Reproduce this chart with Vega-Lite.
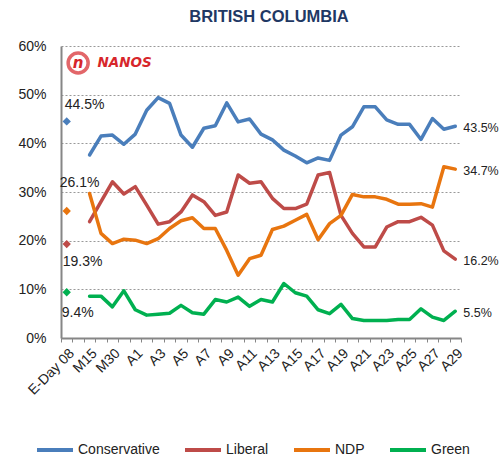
{
  "$schema": "https://vega.github.io/schema/vega-lite/v6.json",
  "width": 400,
  "height": 292,
  "autosize": {"type": "none"},
  "padding": {"left": 61, "top": 46, "right": 39, "bottom": 119},
  "background": "white",
  "config": {"view": {"stroke": null}, "font": "Liberation Sans"},
  "title": {"text": "BRITISH COLUMBIA", "fontSize": 16.5, "fontWeight": "bold", "color": "#1F3864", "font": "Liberation Sans", "offset": 14, "dx": 8, "anchor": "middle"},
  "data": {"values": [
    {"date": "E-Day 08", "Conservative": 0.445, "Liberal": 0.193, "NDP": 0.261, "Green": 0.094},
    {"date": "M15", "Conservative": 0.376, "Liberal": 0.239, "NDP": 0.297, "Green": 0.086},
    {"date": "M29", "Conservative": 0.415, "Liberal": 0.280, "NDP": 0.215, "Green": 0.086},
    {"date": "M30", "Conservative": 0.417, "Liberal": 0.321, "NDP": 0.194, "Green": 0.064},
    {"date": "M31", "Conservative": 0.398, "Liberal": 0.296, "NDP": 0.203, "Green": 0.097},
    {"date": "A1", "Conservative": 0.419, "Liberal": 0.311, "NDP": 0.201, "Green": 0.058},
    {"date": "A2", "Conservative": 0.468, "Liberal": 0.273, "NDP": 0.194, "Green": 0.047},
    {"date": "A3", "Conservative": 0.494, "Liberal": 0.234, "NDP": 0.204, "Green": 0.049},
    {"date": "A4", "Conservative": 0.482, "Liberal": 0.239, "NDP": 0.225, "Green": 0.051},
    {"date": "A5", "Conservative": 0.417, "Liberal": 0.259, "NDP": 0.241, "Green": 0.067},
    {"date": "A6", "Conservative": 0.392, "Liberal": 0.294, "NDP": 0.247, "Green": 0.052},
    {"date": "A7", "Conservative": 0.431, "Liberal": 0.280, "NDP": 0.225, "Green": 0.049},
    {"date": "A8", "Conservative": 0.436, "Liberal": 0.252, "NDP": 0.225, "Green": 0.079},
    {"date": "A9", "Conservative": 0.483, "Liberal": 0.259, "NDP": 0.180, "Green": 0.074},
    {"date": "A10", "Conservative": 0.444, "Liberal": 0.335, "NDP": 0.129, "Green": 0.084},
    {"date": "A11", "Conservative": 0.450, "Liberal": 0.318, "NDP": 0.163, "Green": 0.065},
    {"date": "A12", "Conservative": 0.419, "Liberal": 0.321, "NDP": 0.170, "Green": 0.079},
    {"date": "A13", "Conservative": 0.407, "Liberal": 0.287, "NDP": 0.223, "Green": 0.074},
    {"date": "A14", "Conservative": 0.386, "Liberal": 0.266, "NDP": 0.230, "Green": 0.112},
    {"date": "A15", "Conservative": 0.374, "Liberal": 0.266, "NDP": 0.242, "Green": 0.093},
    {"date": "A16", "Conservative": 0.360, "Liberal": 0.275, "NDP": 0.254, "Green": 0.086},
    {"date": "A17", "Conservative": 0.370, "Liberal": 0.335, "NDP": 0.202, "Green": 0.058},
    {"date": "A18", "Conservative": 0.365, "Liberal": 0.340, "NDP": 0.235, "Green": 0.050},
    {"date": "A19", "Conservative": 0.417, "Liberal": 0.252, "NDP": 0.252, "Green": 0.069},
    {"date": "A20", "Conservative": 0.434, "Liberal": 0.215, "NDP": 0.295, "Green": 0.040},
    {"date": "A21", "Conservative": 0.475, "Liberal": 0.187, "NDP": 0.290, "Green": 0.036},
    {"date": "A22", "Conservative": 0.475, "Liberal": 0.187, "NDP": 0.290, "Green": 0.036},
    {"date": "A23", "Conservative": 0.448, "Liberal": 0.228, "NDP": 0.285, "Green": 0.036},
    {"date": "A24", "Conservative": 0.439, "Liberal": 0.239, "NDP": 0.275, "Green": 0.038},
    {"date": "A25", "Conservative": 0.439, "Liberal": 0.239, "NDP": 0.275, "Green": 0.038},
    {"date": "A26", "Conservative": 0.408, "Liberal": 0.248, "NDP": 0.276, "Green": 0.060},
    {"date": "A27", "Conservative": 0.451, "Liberal": 0.232, "NDP": 0.269, "Green": 0.043},
    {"date": "A28", "Conservative": 0.429, "Liberal": 0.179, "NDP": 0.352, "Green": 0.036},
    {"date": "A29", "Conservative": 0.435, "Liberal": 0.162, "NDP": 0.347, "Green": 0.055}
  ]},
  "encoding": {
    "x": {
      "field": "date", "type": "ordinal",
      "scale": {"type": "band", "paddingInner": 0, "paddingOuter": 0,
        "domain": ["E-Day 08", "M14", "M15", "M29", "M30", "M31", "A1", "A2", "A3", "A4", "A5", "A6", "A7", "A8", "A9", "A10", "A11", "A12", "A13", "A14", "A15", "A16", "A17", "A18", "A19", "A20", "A21", "A22", "A23", "A24", "A25", "A26", "A27", "A28", "A29"]},
      "axis": {
        "title": null, "labelAngle": -45, "labelFontSize": 14, "labelColor": "#222222",
        "domainColor": "#868686", "domainWidth": 2, "tickColor": "#868686", "tickSize": 4,
        "tickBand": "extent", "labelPadding": 4, "labelOverlap": false, "grid": false,
        "labelExpr": "indexof(['E-Day 08','M15','M30','A1','A3','A5','A7','A9','A11','A13','A15','A17','A19','A21','A23','A25','A27','A29'], datum.value) >= 0 ? datum.value : ''"
      }
    },
    "y": {
      "field": "value", "type": "quantitative",
      "scale": {"domain": [0, 0.6]},
      "axis": {
        "title": null, "values": [0, 0.1, 0.2, 0.3, 0.4, 0.5, 0.6], "format": ".0%",
        "labelFontSize": 14, "labelColor": "#222222", "domainColor": "#868686", "domainWidth": 2,
        "ticks": false, "tickSize": 0, "labelPadding": 15,
        "grid": true, "gridDash": [2, 2], "gridColor": "#999999", "gridWidth": 1
      }
    }
  },
  "layer": [
    {
      "data": {"values": [{"date": "M14", "value": 0.565, "name": "n"}]},
      "mark": {"type": "point", "shape": "circle", "filled": false, "strokeWidth": 3.5, "size": 400, "color": "#D7262B"}
    },
    {
      "data": {"values": [{"date": "M14", "value": 0.565, "name": "n"}]},
      "mark": {"type": "text", "font": "DejaVu Sans", "fontWeight": "bold", "fontStyle": "italic", "fontSize": 15, "color": "#D7262B", "baseline": "middle", "align": "center"},
      "encoding": {"text": {"field": "name"}}
    },
    {
      "data": {"values": [{"date": "M15", "value": 0.565, "name": "NANOS"}]},
      "mark": {"type": "text", "font": "DejaVu Sans", "fontWeight": "bold", "fontStyle": "italic", "fontSize": 13.5, "color": "#D7262B", "baseline": "middle", "align": "left", "dx": 8},
      "encoding": {"text": {"field": "name"}}
    },
    {
      "transform": [{"fold": ["Conservative", "Liberal", "NDP", "Green"], "as": ["party", "value"]}, {"filter": "datum.date != 'E-Day 08'"}],
      "mark": {"type": "line", "strokeWidth": 3.5, "strokeJoin": "round", "strokeCap": "round"},
      "encoding": {
        "color": {
          "field": "party", "type": "nominal",
          "scale": {"domain": ["Conservative", "Liberal", "NDP", "Green"], "range": ["#4A7EBB", "#BE4B48", "#E8750F", "#00B050"]},
          "legend": {"orient": "none", "legendX": -26, "legendY": 384, "direction": "horizontal", "title": null,
            "symbolType": "stroke", "symbolSize": 1296, "symbolStrokeWidth": 4, "labelFontSize": 14,
            "labelColor": "#222222", "columnPadding": 17, "labelOffset": 3}
        }
      }
    },
    {
      "transform": [{"fold": ["Conservative", "Liberal", "NDP", "Green"], "as": ["party", "value"]}, {"filter": "datum.date == 'E-Day 08'"}],
      "mark": {"type": "point", "shape": "diamond", "filled": true, "size": 70, "opacity": 1},
      "encoding": {"color": {"field": "party", "type": "nominal"}}
    },
    {
      "transform": [{"fold": ["Conservative"], "as": ["party", "value"]}, {"filter": "datum.date == 'E-Day 08'"}],
      "mark": {"type": "text", "align": "left", "baseline": "middle", "dx": -2, "dy": -16, "fontSize": 14, "color": "#222222"},
      "encoding": {"text": {"field": "value", "type": "quantitative", "format": ".1%"}}
    },
    {
      "transform": [{"fold": ["NDP"], "as": ["party", "value"]}, {"filter": "datum.date == 'E-Day 08'"}],
      "mark": {"type": "text", "align": "left", "baseline": "middle", "dx": -7, "dy": -28, "fontSize": 14, "color": "#222222"},
      "encoding": {"text": {"field": "value", "type": "quantitative", "format": ".1%"}}
    },
    {
      "transform": [{"fold": ["Liberal"], "as": ["party", "value"]}, {"filter": "datum.date == 'E-Day 08'"}],
      "mark": {"type": "text", "align": "left", "baseline": "middle", "dx": -4, "dy": 18, "fontSize": 14, "color": "#222222"},
      "encoding": {"text": {"field": "value", "type": "quantitative", "format": ".1%"}}
    },
    {
      "transform": [{"fold": ["Green"], "as": ["party", "value"]}, {"filter": "datum.date == 'E-Day 08'"}],
      "mark": {"type": "text", "align": "left", "baseline": "middle", "dx": -5, "dy": 21, "fontSize": 14, "color": "#222222"},
      "encoding": {"text": {"field": "value", "type": "quantitative", "format": ".1%"}}
    },
    {
      "transform": [{"fold": ["Conservative", "Liberal", "NDP", "Green"], "as": ["party", "value"]}, {"filter": "datum.date == 'A29'"}],
      "mark": {"type": "text", "align": "left", "baseline": "middle", "dx": 8, "dy": 2, "fontSize": 12.5, "color": "#222222"},
      "encoding": {"text": {"field": "value", "type": "quantitative", "format": ".1%"}}
    }
  ]
}
